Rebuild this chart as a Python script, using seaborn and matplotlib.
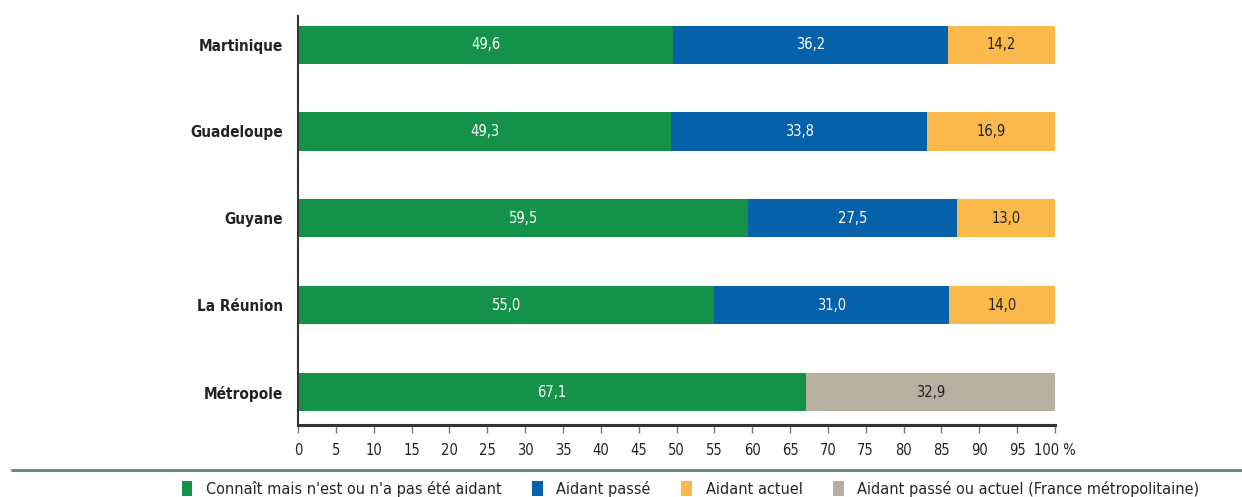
import matplotlib
matplotlib.use("Agg")
import matplotlib.pyplot as plt
import seaborn as sns
import pandas as pd
import numpy as np
from matplotlib.lines import Line2D
from matplotlib.patches import Patch

regions = ["Martinique", "Guadeloupe", "Guyane", "La Réunion", "Métropole"]
connait = [49.6, 49.3, 59.5, 55.0, 67.1]
passe = [36.2, 33.8, 27.5, 31.0, np.nan]
actuel = [14.2, 16.9, 13.0, 14.0, np.nan]
passe_ou_actuel = [np.nan, np.nan, np.nan, np.nan, 32.9]
series_names = ["Connaît mais n'est ou n'a pas été aidant", "Aidant passé",
                "Aidant actuel", "Aidant passé ou actuel (France métropolitaine)"]
xticks = list(range(0, 101, 5))

colors = ["#159249", "#0561a9", "#fbb94c", "#b8afa0"]
text_colors = ["white", "white", "#222222", "#222222"]

sns.set_theme(style="white")
plt.rcParams["font.family"] = ["DejaVu Sans"]
plt.rcParams["font.stretch"] = "condensed"

fig = plt.figure(figsize=(12.42, 4.97), dpi=100)
ax = fig.add_axes([298 / 1242, 1 - 425 / 497, (1055 - 298) / 1242, 409 / 497])

c1 = np.array(connait)
c2 = c1 + np.nan_to_num(np.array(passe))
c3 = c2 + np.nan_to_num(np.array(actuel))
c4 = c1 + np.nan_to_num(np.array(passe_ou_actuel))
cum_yellow = np.where(np.isnan(np.array(actuel)), np.nan, c3)
cum_blue = np.where(np.isnan(np.array(passe)), np.nan, c2)
cum_gray = np.where(np.isnan(np.array(passe_ou_actuel)), np.nan, c4)

df = pd.DataFrame({"region": regions, "yellow": cum_yellow, "blue": cum_blue,
                   "gray": cum_gray, "green": c1})

for col, color in [("yellow", colors[2]), ("gray", colors[3]),
                   ("blue", colors[1]), ("green", colors[0])]:
    sub = df.dropna(subset=[col])
    sns.barplot(data=sub, y="region", x=col, order=regions, color=color,
                orient="h", errorbar=None, width=0.44, ax=ax,
                saturation=1, edgecolor="none", linewidth=0)

# value labels
segs = [connait, passe, actuel, passe_ou_actuel]
for i, r in enumerate(regions):
    left = 0.0
    for k, vals in enumerate(segs):
        v = vals[i]
        if np.isnan(v):
            continue
        ax.text(left + v / 2, i, f"{v:.1f}".replace(".", ","), ha="center",
                va="center", color=text_colors[k], fontsize=10.5)
        left += v

ax.set_xlim(0, 100)
ax.set_ylim(4.38, -0.33)
ax.set_xlabel("")
ax.set_ylabel("")
ax.set_xticks(xticks)
ax.set_xticklabels([str(t) if t < 100 else "100 %" for t in xticks], fontsize=10.5,
                   color="#222222")
ax.tick_params(axis="x", which="both", bottom=True, length=6, width=1,
               color="#777777", pad=7)
ax.tick_params(axis="y", left=False, pad=5)
for lab in ax.get_yticklabels():
    lab.set_fontsize(11)
    lab.set_fontweight("semibold")
    lab.set_color("#222222")
for s in ["top", "right"]:
    ax.spines[s].set_visible(False)
ax.spines["left"].set_color("#333333")
ax.spines["left"].set_linewidth(1.5)
ax.spines["bottom"].set_color("#333333")
ax.spines["bottom"].set_linewidth(2.2)

fig.add_artist(Line2D([12 / 1242, 1.0], [1 - 470 / 497] * 2, color="#6e8a80",
                      lw=2.2, transform=fig.transFigure))

handles = [Patch(facecolor=c, edgecolor="none") for c in colors]
fig.legend(handles, series_names, loc="center", bbox_to_anchor=(0.556, 1 - 489 / 497),
           ncol=4, frameon=False, fontsize=11.6, handlelength=0.65, handleheight=1.0,
           handletextpad=0.85, columnspacing=1.9)

fig.savefig("out.png", dpi=100)
